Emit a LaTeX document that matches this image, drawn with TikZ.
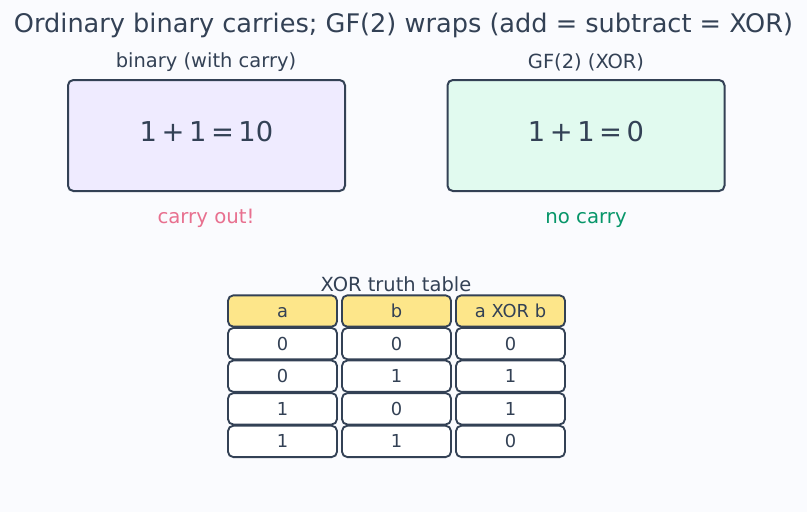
\documentclass[tikz,border=0pt]{standalone}
\usepackage{fontspec}
\setmainfont{DejaVu Sans}
\definecolor{ink}{HTML}{334155}
\definecolor{bgcol}{HTML}{FAFBFE}
\definecolor{lavender}{HTML}{EFEBFF}
\definecolor{mint}{HTML}{E1FAEF}
\definecolor{headfill}{HTML}{FDE68A}
\definecolor{carrypink}{HTML}{E8708F}
\definecolor{nocarrygreen}{HTML}{079669}
\tikzset{
  sumbox/.style={shape=rectangle, draw=ink, line width=1.5pt, rounded corners=4pt, minimum width=207.75pt, minimum height=83.25pt},
  sumtext/.style={text=ink, font=\fontsize{20.5}{24}\selectfont},
  caption/.style={text=ink, font=\fontsize{14.6}{17}\selectfont},
  note/.style={font=\fontsize{14.8}{17}\selectfont, text height=11pt, text depth=0pt},
  cellbox/.style={shape=rectangle, draw=ink, line width=1.4pt, rounded corners=4pt, fill=white, minimum width=81.75pt, minimum height=23.5pt, text=ink, font=\fontsize{13.4}{15}\selectfont, text height=9.8pt, text depth=0pt},
  headbox/.style={cellbox, fill=headfill},
}
\begin{document}
\begin{tikzpicture}[x=0.75pt, y=-0.75pt]
	% Background and frame:
	\fill[bgcol] (0,0) rectangle (807,512);
	\useasboundingbox (0,0) rectangle (807,512);
	\node[text=ink, font=\fontsize{19.2}{23}\selectfont] (title) at (403.5, 25){Ordinary binary carries; GF(2) wraps (add = subtract = XOR)};
	% The two sums:
	\node[caption] (bincap) at (206, 62){binary (with carry)};
	\node[caption] (gfcap) at (586, 62){GF(2) (XOR)};
	\node[sumbox, fill=lavender] (binbox) at (206.5, 135.5){};
	\node[sumbox, fill=mint] (gfbox) at (586, 135.5){};
	\node[sumtext] (binsum) at (206.5, 132){1\,+\,1\,=\,10};
	\node[sumtext] (gfsum) at (586, 132){1\,+\,1\,=\,0};
	\node[note, text=carrypink] (carry) at (206, 216){carry out!};
	\node[note, text=nocarrygreen] (nocarry) at (586, 216){no carry};
	% Truth table:
	\node[caption] (tabcap) at (396, 284){XOR truth table};
	\node[headbox] (h1) at (282.5, 311){a};
	\node[headbox] (h2) at (396.5, 311){b};
	\node[headbox] (h3) at (510.5, 311){a XOR b};
	\foreach \a/\b/\c [count=\r] in {0/0/0, 0/1/1, 1/0/1, 1/1/0} {
		\node[cellbox] (a\r) at (282.5, 311+32.6*\r){\a};
		\node[cellbox] (b\r) at (396.5, 311+32.6*\r){\b};
		\node[cellbox] (c\r) at (510.5, 311+32.6*\r){\c};
	}
\end{tikzpicture}
\end{document}
